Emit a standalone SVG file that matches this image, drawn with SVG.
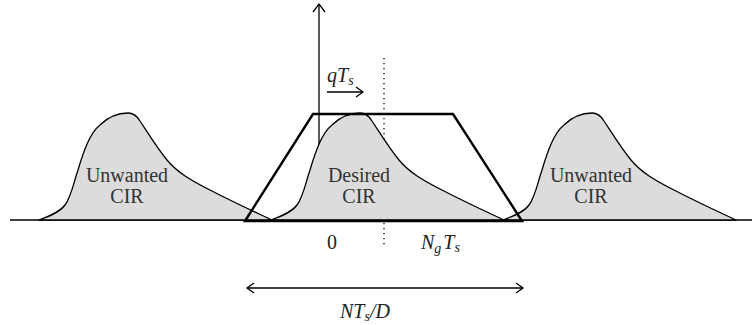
<svg xmlns="http://www.w3.org/2000/svg" width="752" height="325" viewBox="0 0 752 325">
<style>
.ln{fill:none;stroke:#000;stroke-width:1.3}
.cir{fill:#dcdcdc;stroke:#000;stroke-width:1.3;stroke-linejoin:round}
.trap{fill:none;stroke:#000;stroke-width:2.4;stroke-linejoin:miter}
.dot{fill:none;stroke:#000;stroke-width:1.3;stroke-dasharray:1.3 3.7}
.lbl{font-family:"Liberation Serif",serif;font-size:20px;fill:#333;text-anchor:middle}
.math{font-family:"Liberation Serif",serif;font-size:20px;font-style:italic;fill:#222}
.sub{font-size:14px}
</style>
<defs>
<path id="cirShape" d="M39,220 C50,216 60,212 65,205 C71,197 73,185 78,170 C84,150 90,133 100,125 C108,117 118,113 128,113 C134,113 137,116 140,121 C148,133 157,148 167,160 C177,172 190,180 210,190 C235,203 255,212 272,220 Z"/>
</defs>
<g id="connectors">
<line class="ln" x1="10" y1="220" x2="752" y2="220"/>
<line class="ln" x1="319" y1="220" x2="319" y2="4"/>
<polyline class="ln" points="313,12 319,4 325,12"/>
<line class="dot" x1="384" y1="58" x2="384" y2="246"/>
<line class="ln" x1="327" y1="92" x2="363" y2="92"/>
<polyline class="ln" points="356,87 363,92 356,97"/>
<line class="ln" x1="247" y1="288" x2="523" y2="288"/>
<polyline class="ln" points="254,283 247,288 254,293"/>
<polyline class="ln" points="516,283 523,288 516,293"/>
</g>
<g id="cir-left">
<use href="#cirShape" class="cir"/>
<text class="lbl" x="127" y="182">Unwanted</text>
<text class="lbl" x="127" y="203">CIR</text>
</g>
<g id="cir-desired">
<use href="#cirShape" class="cir" transform="translate(232,0)"/>
<text class="lbl" x="359" y="182">Desired</text>
<text class="lbl" x="359" y="203">CIR</text>
</g>
<g id="cir-right">
<use href="#cirShape" class="cir" transform="translate(464,0)"/>
<text class="lbl" x="591" y="182">Unwanted</text>
<text class="lbl" x="591" y="203">CIR</text>
</g>
<g id="window">
<polygon class="trap" points="245,221 313,114 453,114 522,221"/>
</g>
<g id="labels">
<text class="math" x="327" y="82">qT<tspan class="sub" dy="3">s</tspan></text>
<text class="lbl" x="332" y="249" style="fill:#222">0</text>
<text class="math" x="421" y="249">N<tspan class="sub" dy="4">g</tspan><tspan dy="-4" dx="2">T</tspan><tspan class="sub" dy="3">s</tspan></text>
<text class="math" x="340" y="318">NT<tspan class="sub" dy="3">s</tspan><tspan dy="-3">/D</tspan></text>
</g>
</svg>
